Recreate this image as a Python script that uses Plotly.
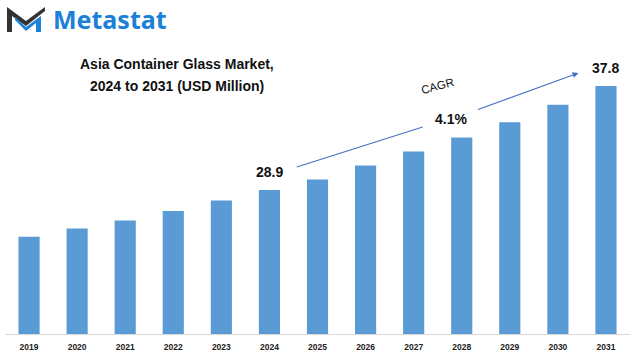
import plotly.graph_objects as go

years = ["2019", "2020", "2021", "2022", "2023", "2024", "2025",
         "2026", "2027", "2028", "2029", "2030", "2031"]
values = [24.9, 25.6, 26.3, 27.1, 28.0, 28.9, 29.8,
          31.0, 32.2, 33.4, 34.7, 36.2, 37.8]
labeled_years = ["2024", "2031"]
cagr_text = "4.1%"
title_lines = ["Asia Container Glass Market,", "2024 to 2031 (USD Million)"]

W, H = 632, 355
ML, MR, MT, MB = 5, 1.5, 0, 21
PW, PH = W - ML - MR, H - MT - MB

def px(x):
    return (x - ML) / PW

def py(y):
    return (H - MB - y) / PH

BAR = "#5b9bd5"
ARROW = "#4472c4"
FONT = "Liberation Sans"
INK = "#111111"

fig = go.Figure()
fig.add_trace(go.Bar(x=years, y=values, marker_color=BAR, marker_line_width=0,
                     hoverinfo="skip", cliponaxis=False))

def note(x, y, text, size, bold=True, angle=0, family=FONT, color=INK, xanchor="center"):
    return dict(x=px(x), y=py(y), xref="paper", yref="paper",
                xanchor=xanchor, yanchor="middle",
                text=f"<b>{text}</b>" if bold else text, showarrow=False,
                textangle=angle, font=dict(family=family, size=size, color=color))

annotations = []
for yr in labeled_years:
    i = years.index(yr)
    v = values[i]
    annotations.append(dict(x=i, y=v, xref="x", yref="y", text=f"<b>{v:.1f}</b>",
                            showarrow=False, xanchor="center", yanchor="bottom",
                            yshift=8,
                            font=dict(family=FONT, size=14, color=INK)))

annotations.append(note(177, 64, title_lines[0], 14))
annotations.append(note(177, 86, title_lines[1], 14))
annotations.append(note(438, 86, "CAGR", 11.5, bold=False, angle=-15))
annotations.append(note(451, 119, cagr_text, 14))
annotations.append(note(51, 19, "Metastat", 25, family="Noto Sans",
                        color="#1b80d8", xanchor="left"))
# arrow second segment (arrowhead)
annotations.append(dict(x=px(579), y=py(73), xref="paper", yref="paper",
                        ax=477 - 579, ay=110 - 73, axref="pixel", ayref="pixel",
                        text="", showarrow=True, arrowhead=2, arrowsize=1,
                        arrowwidth=1.2, arrowcolor=ARROW))

shapes = [
    dict(type="line", xref="paper", yref="paper",
         x0=px(297), y0=py(167), x1=px(423), y1=py(127),
         line=dict(color=ARROW, width=1.2)),
]
# logo icon
dark = [(7, 7), (7, 32), (12, 32), (12, 16), (26, 26), (45, 11), (45, 7), (26, 21)]
blue = [(15, 20), (26, 31), (36, 23), (36, 32), (41, 32), (41, 16), (26, 27), (15, 17)]
def path(pts):
    return "M " + " L ".join(f"{px(a):.5f},{py(b):.5f}" for a, b in pts) + " Z"
shapes.append(dict(type="path", xref="paper", yref="paper", path=path(dark),
                   fillcolor="#333333", line_width=0))
shapes.append(dict(type="path", xref="paper", yref="paper", path=path(blue),
                   fillcolor="#1b80d8", line_width=0))

ymin = 16.58
ymax = ymin + PH * (37.8 - 28.9) / 104

fig.update_layout(
    width=W, height=H, margin=dict(l=ML, r=MR, t=MT, b=MB),
    paper_bgcolor="white", plot_bgcolor="white",
    bargap=0.56, showlegend=False,
    annotations=annotations, shapes=shapes,
    xaxis=dict(type="category", range=[-0.5, 12.5], showgrid=False,
               showline=True, linecolor="#d9d9d9", linewidth=1, ticks="",
               tickprefix="<b>", ticksuffix="</b>",
               tickfont=dict(family=FONT, size=8.5, color="#222222"),
               ticklabelstandoff=5),
    yaxis=dict(range=[ymin, ymax], visible=False, showgrid=False),
)
fig.write_html("out.html", config={"displayModeBar": False},
               post_script="document.body.style.margin='0';")
